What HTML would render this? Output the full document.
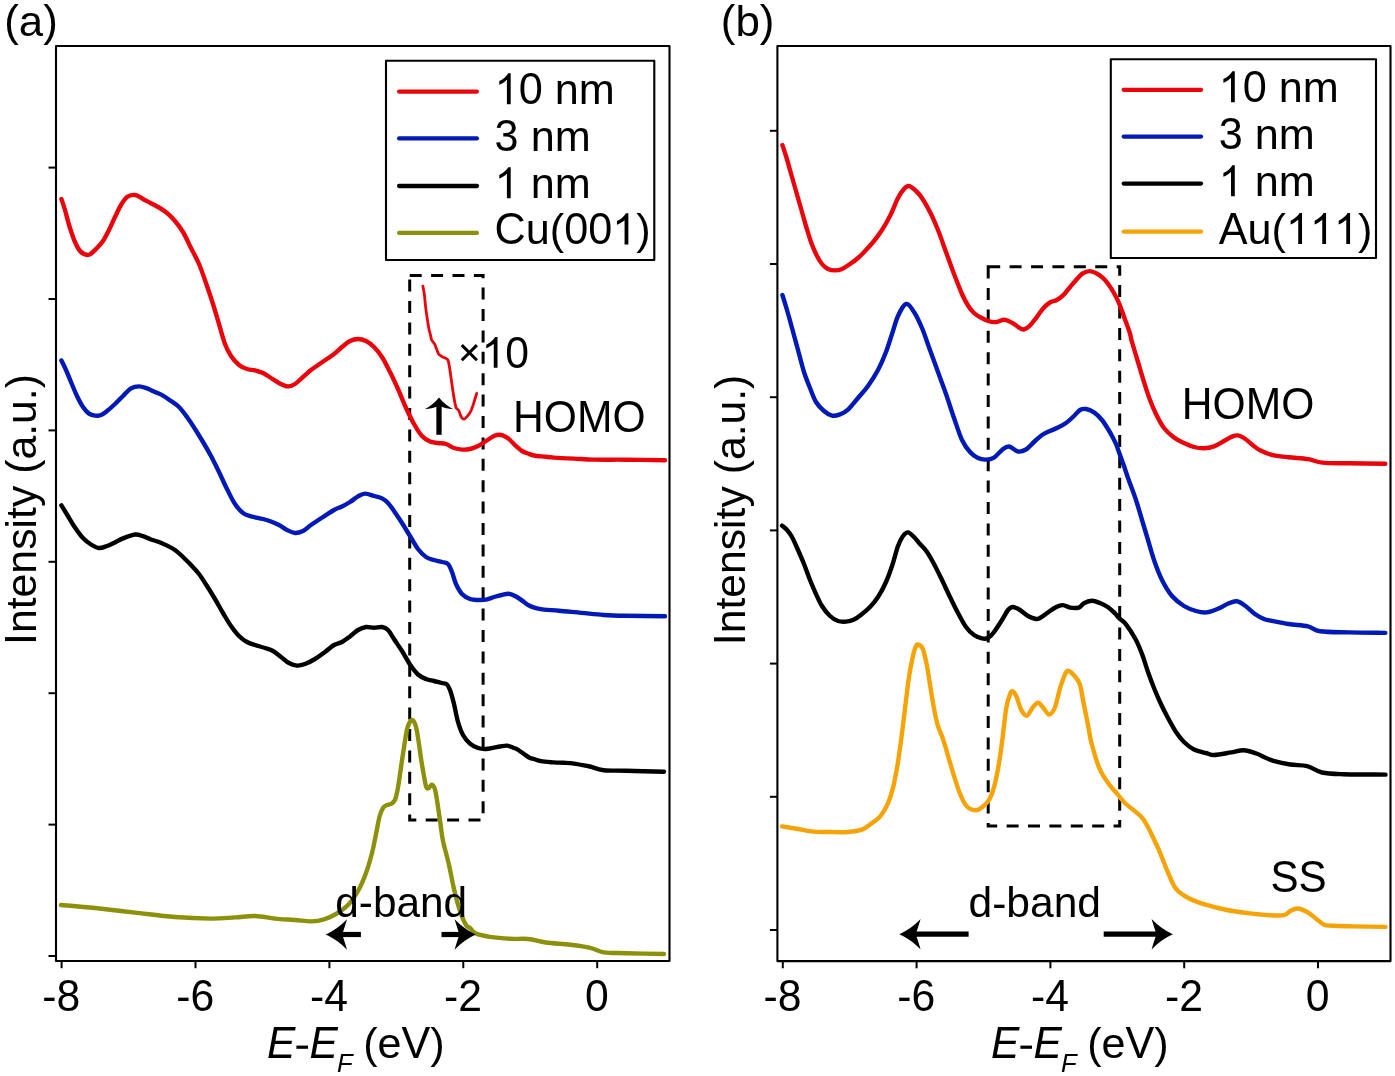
<!DOCTYPE html><html><head><meta charset="utf-8"><style>html,body{margin:0;padding:0;background:#fff;}svg{display:block;will-change:transform;}text{font-family:"Liberation Sans",sans-serif;fill:#000;font-kerning:none;font-feature-settings:"kern" 0;}</style></head><body>
<svg width="1395" height="1076" viewBox="0 0 1395 1076">
<rect width="1395" height="1076" fill="#fff"/>
<rect x="56.0" y="46.0" width="613.5" height="915.0" fill="none" stroke="#000" stroke-width="2.1" stroke-linejoin="round"/>
<line x1="48.5" y1="167.6" x2="56.0" y2="167.6" stroke="#000" stroke-width="2"/>
<line x1="48.5" y1="299.0" x2="56.0" y2="299.0" stroke="#000" stroke-width="2"/>
<line x1="48.5" y1="430.4" x2="56.0" y2="430.4" stroke="#000" stroke-width="2"/>
<line x1="48.5" y1="561.8" x2="56.0" y2="561.8" stroke="#000" stroke-width="2"/>
<line x1="48.5" y1="693.2" x2="56.0" y2="693.2" stroke="#000" stroke-width="2"/>
<line x1="48.5" y1="824.6" x2="56.0" y2="824.6" stroke="#000" stroke-width="2"/>
<line x1="48.5" y1="956.0" x2="56.0" y2="956.0" stroke="#000" stroke-width="2"/>
<line x1="61.6" y1="961.0" x2="61.6" y2="968.2" stroke="#000" stroke-width="2"/>
<line x1="195.5" y1="961.0" x2="195.5" y2="968.2" stroke="#000" stroke-width="2"/>
<line x1="329.4" y1="961.0" x2="329.4" y2="968.2" stroke="#000" stroke-width="2"/>
<line x1="463.3" y1="961.0" x2="463.3" y2="968.2" stroke="#000" stroke-width="2"/>
<line x1="597.2" y1="961.0" x2="597.2" y2="968.2" stroke="#000" stroke-width="2"/>
<rect x="777.4" y="46.0" width="613.1" height="915.1" fill="none" stroke="#000" stroke-width="2.1" stroke-linejoin="round"/>
<line x1="769.9" y1="130.8" x2="777.4" y2="130.8" stroke="#000" stroke-width="2"/>
<line x1="769.9" y1="264.0" x2="777.4" y2="264.0" stroke="#000" stroke-width="2"/>
<line x1="769.9" y1="397.2" x2="777.4" y2="397.2" stroke="#000" stroke-width="2"/>
<line x1="769.9" y1="530.4" x2="777.4" y2="530.4" stroke="#000" stroke-width="2"/>
<line x1="769.9" y1="663.6" x2="777.4" y2="663.6" stroke="#000" stroke-width="2"/>
<line x1="769.9" y1="796.8" x2="777.4" y2="796.8" stroke="#000" stroke-width="2"/>
<line x1="769.9" y1="930.0" x2="777.4" y2="930.0" stroke="#000" stroke-width="2"/>
<line x1="782.8" y1="961.1" x2="782.8" y2="968.3" stroke="#000" stroke-width="2"/>
<line x1="916.6" y1="961.1" x2="916.6" y2="968.3" stroke="#000" stroke-width="2"/>
<line x1="1050.4" y1="961.1" x2="1050.4" y2="968.3" stroke="#000" stroke-width="2"/>
<line x1="1184.2" y1="961.1" x2="1184.2" y2="968.3" stroke="#000" stroke-width="2"/>
<line x1="1318.0" y1="961.1" x2="1318.0" y2="968.3" stroke="#000" stroke-width="2"/>
<rect x="409.7" y="275.4" width="73.4" height="544.6" fill="none" stroke="#000" stroke-width="3" stroke-dasharray="12 9.4"/>
<rect x="988.2" y="266.8" width="131.5" height="559.2" fill="none" stroke="#000" stroke-width="3" stroke-dasharray="12 9.4"/>
<path d="M61.0,905.0 C66.7,905.5 82.7,906.7 95.0,908.0 C107.3,909.3 121.7,911.1 135.0,912.6 C148.3,914.1 162.3,916.0 175.0,917.0 C187.7,918.0 201.0,918.5 211.0,918.6 C221.0,918.7 227.7,917.8 235.0,917.4 C242.3,917.0 248.3,915.8 255.0,916.0 C261.7,916.2 268.3,917.9 275.0,918.6 C281.7,919.3 288.8,919.5 295.0,920.0 C301.2,920.5 307.2,921.5 312.0,921.4 C316.8,921.3 320.0,920.6 324.0,919.4 C328.0,918.2 332.0,916.4 336.0,914.0 C340.0,911.6 344.3,908.8 348.0,905.0 C351.7,901.2 355.0,896.3 358.0,891.0 C361.0,885.7 363.7,879.3 366.0,873.0 C368.3,866.7 370.2,860.0 372.0,853.0 C373.8,846.0 375.3,837.2 376.6,831.0 C377.9,824.8 378.6,819.9 379.7,816.0 C380.8,812.1 382.1,809.3 383.3,807.5 C384.5,805.7 385.6,805.7 386.9,805.1 C388.2,804.5 389.8,804.7 391.1,803.9 C392.4,803.1 393.8,802.3 394.8,800.3 C395.8,798.3 396.4,795.6 397.2,791.8 C398.0,788.0 398.8,782.5 399.6,777.3 C400.4,772.1 401.2,765.8 402.0,760.4 C402.8,755.0 403.6,749.7 404.4,744.7 C405.2,739.7 406.0,733.8 406.8,730.2 C407.6,726.6 408.5,724.7 409.3,723.0 C410.1,721.3 410.9,720.2 411.7,720.0 C412.5,719.8 413.3,720.2 414.1,721.7 C414.9,723.2 415.7,725.4 416.5,729.0 C417.3,732.6 418.1,738.3 418.9,743.5 C419.7,748.7 420.5,755.2 421.3,760.4 C422.1,765.6 423.0,770.5 423.8,774.9 C424.6,779.3 425.4,784.8 426.2,787.0 C427.0,789.2 427.7,788.6 428.6,788.2 C429.5,787.8 430.6,784.6 431.6,784.6 C432.6,784.6 433.8,786.2 434.6,788.2 C435.4,790.2 435.8,793.2 436.4,796.6 C437.0,800.0 437.6,803.9 438.3,808.7 C439.0,813.5 439.9,820.2 440.7,825.6 C441.5,831.0 441.6,834.4 443.0,841.0 C444.4,847.6 447.2,857.0 449.0,865.0 C450.8,873.0 452.2,881.3 454.0,889.0 C455.8,896.7 458.0,905.0 460.0,911.0 C462.0,917.0 464.3,922.2 466.0,925.0 C467.7,927.8 468.3,926.6 470.0,928.0 C471.7,929.4 472.7,932.0 476.0,933.5 C479.3,935.0 484.3,935.9 490.0,936.8 C495.7,937.7 503.7,938.4 510.0,938.8 C516.3,939.2 522.0,938.4 528.0,939.0 C534.0,939.6 538.8,941.5 545.8,942.5 C552.8,943.5 562.9,943.8 570.3,944.7 C577.7,945.6 584.8,946.5 590.4,947.8 C596.0,949.1 597.8,951.4 603.7,952.3 C609.6,953.2 616.0,952.9 626.0,953.2 C636.0,953.5 657.7,953.9 664.0,954.0" fill="none" stroke="#8d900b" stroke-width="4.4" stroke-linejoin="round" stroke-linecap="round"/>
<path d="M61.4,505.3 C62.3,506.8 64.7,510.8 67.0,514.5 C69.3,518.2 72.3,523.6 75.0,527.5 C77.7,531.4 80.3,535.2 83.0,538.0 C85.7,540.8 88.3,542.8 91.0,544.5 C93.7,546.2 96.3,547.8 99.0,548.0 C101.7,548.2 104.3,546.9 107.0,546.0 C109.7,545.1 112.3,543.7 115.0,542.4 C117.7,541.1 119.7,539.7 123.0,538.4 C126.3,537.1 131.7,534.9 135.0,534.5 C138.3,534.1 140.3,535.4 143.0,536.2 C145.7,537.0 148.3,538.5 151.0,539.5 C153.7,540.5 156.3,541.0 159.0,542.0 C161.7,543.0 164.3,544.3 167.0,545.6 C169.7,546.9 172.3,548.1 175.0,550.0 C177.7,551.9 180.3,554.5 183.0,557.0 C185.7,559.5 188.3,562.2 191.0,565.0 C193.7,567.8 196.3,570.5 199.0,574.0 C201.7,577.5 204.3,581.8 207.0,586.0 C209.7,590.2 212.3,594.5 215.0,599.0 C217.7,603.5 220.3,608.5 223.0,613.0 C225.7,617.5 228.3,622.2 231.0,626.0 C233.7,629.8 236.3,633.3 239.0,636.0 C241.7,638.7 244.3,640.5 247.0,642.0 C249.7,643.5 252.0,644.0 255.0,645.0 C258.0,646.0 262.0,647.0 265.0,648.0 C268.0,649.0 270.3,649.5 273.0,651.0 C275.7,652.5 278.3,655.0 281.0,657.0 C283.7,659.0 286.3,661.6 289.0,663.0 C291.7,664.4 294.3,665.4 297.0,665.6 C299.7,665.8 302.0,665.1 305.0,664.0 C308.0,662.9 311.7,661.0 315.0,659.0 C318.3,657.0 321.8,654.3 325.0,652.0 C328.2,649.7 331.2,646.7 334.0,645.0 C336.8,643.3 339.3,643.4 342.0,642.0 C344.7,640.6 347.3,638.5 350.0,636.5 C352.7,634.5 355.3,631.6 358.0,630.0 C360.7,628.4 363.3,627.4 366.0,627.0 C368.7,626.6 371.3,627.8 374.0,627.8 C376.7,627.8 379.7,626.6 382.0,627.0 C384.3,627.4 386.0,628.0 388.0,630.0 C390.0,632.0 391.7,635.5 394.0,639.0 C396.3,642.5 399.3,646.8 402.0,651.0 C404.7,655.2 407.3,660.6 410.0,664.5 C412.7,668.4 415.3,672.1 418.0,674.5 C420.7,676.9 423.3,677.9 426.0,679.0 C428.7,680.1 431.3,680.3 434.0,681.0 C436.7,681.7 439.8,682.4 442.0,683.0 C444.2,683.6 445.7,683.3 447.0,684.5 C448.3,685.7 448.8,686.8 450.0,690.0 C451.2,693.2 452.7,698.7 454.0,704.0 C455.3,709.3 456.5,716.8 458.0,722.0 C459.5,727.2 461.0,731.4 463.0,735.0 C465.0,738.6 467.5,741.5 470.0,743.7 C472.5,745.9 475.3,747.1 478.0,748.0 C480.7,748.9 483.3,749.1 486.0,749.0 C488.7,748.9 491.7,748.0 494.0,747.6 C496.3,747.2 497.8,746.8 500.0,746.5 C502.2,746.2 504.7,745.4 507.0,745.6 C509.3,745.9 512.3,747.4 514.0,748.0 C515.7,748.6 515.3,748.2 517.0,749.2 C518.7,750.2 521.8,752.5 524.0,754.0 C526.2,755.5 528.3,757.1 530.0,757.9 C531.7,758.7 532.2,758.5 534.0,759.0 C535.8,759.5 537.7,760.6 541.0,761.2 C544.3,761.8 550.2,762.1 554.0,762.4 C557.8,762.7 560.3,762.6 563.6,762.8 C566.9,763.0 570.3,763.1 574.0,763.6 C577.7,764.1 583.2,765.2 585.9,765.7 C588.6,766.2 587.0,765.8 590.0,766.5 C593.0,767.2 597.7,769.5 603.7,770.2 C609.7,770.9 616.0,770.5 626.0,770.8 C636.0,771.0 657.7,771.6 664.0,771.7" fill="none" stroke="#000" stroke-width="4.4" stroke-linejoin="round" stroke-linecap="round"/>
<path d="M61.4,360.5 C62.2,362.1 64.4,366.4 66.0,370.0 C67.6,373.6 69.2,377.7 71.0,382.0 C72.8,386.3 75.0,391.8 77.0,396.0 C79.0,400.2 81.0,404.1 83.0,407.0 C85.0,409.9 87.0,412.2 89.0,413.6 C91.0,415.0 93.0,415.4 95.0,415.6 C97.0,415.8 99.0,415.8 101.0,415.0 C103.0,414.2 104.7,412.8 107.0,411.0 C109.3,409.2 112.3,406.5 115.0,404.0 C117.7,401.5 120.3,398.6 123.0,396.0 C125.7,393.4 128.3,390.0 131.0,388.4 C133.7,386.8 136.3,386.4 139.0,386.4 C141.7,386.4 144.3,387.5 147.0,388.4 C149.7,389.3 152.3,390.8 155.0,392.0 C157.7,393.2 160.3,394.1 163.0,395.6 C165.7,397.1 168.3,399.1 171.0,401.0 C173.7,402.9 176.3,404.3 179.0,407.0 C181.7,409.7 184.3,413.3 187.0,417.0 C189.7,420.7 192.3,424.8 195.0,429.0 C197.7,433.2 200.3,437.5 203.0,442.0 C205.7,446.5 208.3,451.0 211.0,456.0 C213.7,461.0 216.3,466.5 219.0,472.0 C221.7,477.5 224.3,483.7 227.0,489.0 C229.7,494.3 232.3,500.0 235.0,504.0 C237.7,508.0 240.3,510.9 243.0,513.0 C245.7,515.1 247.7,515.4 251.0,516.4 C254.3,517.4 259.7,518.1 263.0,519.0 C266.3,519.9 268.3,520.5 271.0,521.5 C273.7,522.5 276.3,523.6 279.0,525.0 C281.7,526.4 284.3,528.7 287.0,530.0 C289.7,531.3 292.3,532.8 295.0,533.0 C297.7,533.2 300.3,532.3 303.0,531.0 C305.7,529.7 307.7,527.3 311.0,525.0 C314.3,522.7 319.2,519.5 323.0,517.0 C326.8,514.5 330.8,511.8 334.0,510.0 C337.2,508.2 339.3,507.8 342.0,506.5 C344.7,505.2 347.3,503.7 350.0,502.0 C352.7,500.3 355.5,497.8 358.0,496.4 C360.5,495.0 362.3,493.7 365.0,493.6 C367.7,493.5 371.2,495.2 374.0,496.0 C376.8,496.8 379.7,497.2 382.0,498.4 C384.3,499.6 386.0,500.9 388.0,503.0 C390.0,505.1 391.7,507.7 394.0,511.0 C396.3,514.3 399.3,518.8 402.0,523.0 C404.7,527.2 407.3,531.7 410.0,536.0 C412.7,540.3 415.3,545.5 418.0,549.0 C420.7,552.5 423.3,555.2 426.0,557.0 C428.7,558.8 431.3,559.2 434.0,560.0 C436.7,560.8 439.7,561.3 442.0,562.0 C444.3,562.7 446.3,562.3 448.0,564.0 C449.7,565.7 450.7,568.7 452.0,572.0 C453.3,575.3 454.3,580.3 456.0,584.0 C457.7,587.7 459.7,591.5 462.0,594.0 C464.3,596.5 467.3,598.0 470.0,599.0 C472.7,600.0 475.3,599.9 478.0,600.0 C480.7,600.1 483.3,600.1 486.0,599.6 C488.7,599.1 491.3,597.8 494.0,597.0 C496.7,596.2 499.5,595.5 502.0,595.0 C504.5,594.5 506.7,593.5 509.0,593.8 C511.3,594.0 513.5,595.1 516.0,596.5 C518.5,597.9 522.0,600.6 524.0,602.0 C526.0,603.4 526.0,604.0 528.0,605.0 C530.0,606.0 533.3,607.4 536.0,608.2 C538.7,609.0 540.2,609.2 544.0,609.6 C547.8,610.0 552.8,610.2 559.0,610.7 C565.2,611.2 574.0,612.2 581.5,612.9 C589.0,613.6 596.3,614.5 603.7,615.0 C611.1,615.5 615.8,615.6 626.0,615.8 C636.2,616.0 658.5,616.1 665.0,616.2" fill="none" stroke="#0119b5" stroke-width="4.4" stroke-linejoin="round" stroke-linecap="round"/>
<path d="M61.4,199.0 C62.0,200.8 63.6,205.2 65.0,210.0 C66.4,214.8 68.3,222.7 70.0,228.0 C71.7,233.3 73.3,238.2 75.0,242.0 C76.7,245.8 78.3,248.9 80.0,251.0 C81.7,253.1 83.3,253.8 85.0,254.4 C86.7,255.0 88.0,255.5 90.0,254.4 C92.0,253.3 94.8,250.2 97.0,248.0 C99.2,245.8 101.0,244.0 103.0,241.0 C105.0,238.0 107.0,234.0 109.0,230.0 C111.0,226.0 113.0,221.2 115.0,217.0 C117.0,212.8 119.0,208.3 121.0,205.0 C123.0,201.7 124.7,198.7 127.0,197.0 C129.3,195.3 132.3,194.7 135.0,195.0 C137.7,195.3 140.3,197.6 143.0,199.0 C145.7,200.4 148.3,201.9 151.0,203.3 C153.7,204.7 156.3,205.9 159.0,207.5 C161.7,209.1 164.3,210.8 167.0,213.0 C169.7,215.2 172.3,217.8 175.0,221.0 C177.7,224.2 180.3,227.5 183.0,232.0 C185.7,236.5 188.3,242.7 191.0,248.0 C193.7,253.3 196.3,257.7 199.0,264.0 C201.7,270.3 204.7,279.3 207.0,286.0 C209.3,292.7 211.0,297.7 213.0,304.0 C215.0,310.3 217.0,317.3 219.0,324.0 C221.0,330.7 223.0,338.7 225.0,344.0 C227.0,349.3 228.7,352.5 231.0,356.0 C233.3,359.5 236.3,362.8 239.0,365.0 C241.7,367.2 244.3,368.1 247.0,369.0 C249.7,369.9 252.3,369.7 255.0,370.4 C257.7,371.1 260.3,371.7 263.0,373.0 C265.7,374.3 268.3,376.3 271.0,378.0 C273.7,379.7 276.2,381.6 279.0,383.0 C281.8,384.4 285.3,386.2 288.0,386.4 C290.7,386.6 292.5,385.6 295.0,384.0 C297.5,382.4 300.3,379.3 303.0,377.0 C305.7,374.7 308.0,372.3 311.0,370.0 C314.0,367.7 317.2,365.7 321.0,363.0 C324.8,360.3 330.5,356.7 334.0,354.0 C337.5,351.3 339.3,349.2 342.0,347.0 C344.7,344.8 347.3,342.3 350.0,341.0 C352.7,339.7 355.3,339.0 358.0,339.0 C360.7,339.0 363.3,339.7 366.0,341.0 C368.7,342.3 371.3,344.3 374.0,347.0 C376.7,349.7 379.3,352.8 382.0,357.0 C384.7,361.2 387.3,366.7 390.0,372.0 C392.7,377.3 395.3,383.0 398.0,389.0 C400.7,395.0 403.3,402.2 406.0,408.0 C408.7,413.8 411.3,419.3 414.0,424.0 C416.7,428.7 419.3,433.1 422.0,436.0 C424.7,438.9 427.3,440.4 430.0,441.6 C432.7,442.8 435.3,442.6 438.0,443.0 C440.7,443.4 443.3,443.2 446.0,444.0 C448.7,444.8 451.3,447.1 454.0,448.0 C456.7,448.9 459.3,449.4 462.0,449.6 C464.7,449.8 467.3,449.6 470.0,449.0 C472.7,448.4 475.3,447.3 478.0,446.0 C480.7,444.7 483.3,442.7 486.0,441.0 C488.7,439.3 491.7,437.0 494.0,436.0 C496.3,435.0 498.0,434.6 500.0,434.8 C502.0,435.0 504.3,436.1 506.0,437.0 C507.7,437.9 508.2,438.3 510.0,440.0 C511.8,441.7 515.0,445.2 517.0,447.0 C519.0,448.8 520.2,449.9 522.0,451.0 C523.8,452.1 526.0,452.8 528.0,453.5 C530.0,454.2 531.0,454.9 534.0,455.5 C537.0,456.1 542.5,456.4 545.8,456.8 C549.1,457.2 549.3,457.3 554.0,457.6 C558.7,457.9 567.3,458.3 574.0,458.6 C580.7,458.9 585.3,459.4 594.0,459.6 C602.7,459.8 614.2,459.6 626.0,459.7 C637.8,459.8 658.5,460.1 665.0,460.2" fill="none" stroke="#e8060c" stroke-width="4.4" stroke-linejoin="round" stroke-linecap="round"/>
<path d="M422.9,286.2 C423.1,287.6 424.0,291.4 424.4,294.7 C424.8,298.0 425.1,302.2 425.5,305.9 C425.9,309.6 426.4,313.3 427.0,317.0 C427.6,320.7 428.2,325.2 428.8,328.2 C429.4,331.2 430.0,333.0 430.5,335.0 C431.0,337.0 431.0,338.6 431.6,340.0 C432.2,341.4 433.5,342.1 434.4,343.7 C435.2,345.2 436.0,347.6 436.7,349.3 C437.4,351.0 437.9,352.8 438.6,353.9 C439.3,355.0 440.1,355.2 440.9,355.8 C441.7,356.4 442.4,356.8 443.2,357.2 C444.0,357.6 444.7,357.6 445.5,358.1 C446.3,358.6 447.3,358.7 447.9,360.0 C448.5,361.3 448.8,363.4 449.3,366.0 C449.8,368.6 450.2,372.2 450.7,375.3 C451.1,378.4 451.6,381.5 452.0,384.6 C452.4,387.7 452.9,390.9 453.4,393.9 C453.9,396.8 454.3,400.0 454.8,402.3 C455.3,404.6 455.6,406.5 456.2,407.8 C456.8,409.1 458.0,409.3 458.6,410.2 C459.2,411.1 459.4,412.2 459.9,413.4 C460.3,414.5 460.6,416.1 461.3,417.1 C462.0,418.1 463.2,419.3 464.1,419.2 C465.0,419.1 465.8,418.0 466.9,416.7 C468.0,415.4 469.5,413.7 470.6,411.6 C471.7,409.5 472.4,407.1 473.4,404.1 C474.4,401.1 476.1,395.2 476.7,393.4" fill="none" stroke="#e8060c" stroke-width="2.8" stroke-linejoin="round" stroke-linecap="round"/>
<path d="M782.0,826.4 C784.7,826.8 792.7,828.1 798.0,829.0 C803.3,829.9 808.7,831.1 814.0,831.6 C819.3,832.1 824.3,831.9 830.0,832.0 C835.7,832.1 842.7,832.4 848.0,832.0 C853.3,831.6 858.0,831.1 862.0,829.6 C866.0,828.1 869.0,825.1 872.0,823.0 C875.0,820.9 877.4,819.8 880.0,816.7 C882.6,813.7 885.2,809.5 887.4,804.7 C889.6,799.9 891.3,794.7 893.0,787.9 C894.7,781.1 896.3,772.1 897.7,763.8 C899.1,755.4 900.2,747.1 901.4,737.8 C902.6,728.5 903.9,717.9 905.1,708.0 C906.3,698.1 907.6,686.6 908.8,678.3 C910.0,669.9 911.3,663.3 912.5,657.9 C913.7,652.5 915.1,648.0 916.2,645.8 C917.3,643.6 917.9,644.4 919.0,644.9 C920.1,645.4 921.5,645.5 922.7,648.6 C924.0,651.7 925.2,657.2 926.5,663.4 C927.8,669.6 929.0,678.3 930.2,685.7 C931.4,693.1 932.7,701.5 933.9,708.0 C935.1,714.5 936.0,719.5 937.6,724.8 C939.2,730.1 941.4,734.0 943.2,739.6 C945.1,745.2 946.9,752.0 948.7,758.2 C950.6,764.4 952.4,770.9 954.3,776.8 C956.2,782.7 958.0,788.9 959.9,793.5 C961.8,798.1 963.6,802.1 965.5,804.7 C967.4,807.3 969.0,808.4 971.0,809.3 C973.0,810.2 975.3,810.5 977.5,809.9 C979.7,809.3 982.0,807.4 984.0,805.6 C986.0,803.8 987.9,802.4 989.6,799.1 C991.3,795.9 992.8,792.0 994.3,786.1 C995.8,780.2 997.5,771.8 998.9,763.8 C1000.3,755.8 1001.4,747.1 1002.6,737.8 C1003.8,728.5 1005.0,715.3 1006.3,708.0 C1007.5,700.7 1009.0,696.9 1010.1,694.1 C1011.2,691.3 1011.7,690.8 1012.8,691.3 C1013.9,691.8 1015.2,693.8 1016.6,696.9 C1018.0,700.0 1019.5,706.8 1021.2,709.9 C1022.9,713.0 1024.9,716.1 1026.8,715.8 C1028.7,715.5 1030.6,710.2 1032.4,708.0 C1034.2,705.8 1036.1,702.8 1037.9,702.8 C1039.8,702.8 1041.6,706.0 1043.5,708.0 C1045.4,710.0 1047.2,714.5 1049.1,714.5 C1051.0,714.5 1052.8,712.5 1054.7,708.0 C1056.6,703.5 1058.4,693.5 1060.2,687.6 C1062.0,681.7 1064.4,675.5 1065.8,672.7 C1067.2,669.9 1067.2,670.4 1068.6,670.9 C1070.0,671.4 1072.3,673.3 1074.2,675.5 C1076.1,677.7 1078.2,679.8 1079.7,683.9 C1081.2,688.0 1082.0,695.1 1083.0,700.0 C1084.0,704.9 1084.7,708.7 1085.6,713.0 C1086.5,717.3 1087.3,721.5 1088.2,726.0 C1089.1,730.5 1089.7,735.5 1090.8,740.3 C1091.9,745.1 1093.4,750.3 1094.7,754.6 C1096.0,758.9 1097.1,762.6 1098.6,766.3 C1100.1,770.0 1101.8,773.5 1103.8,776.7 C1105.8,780.0 1107.9,782.8 1110.3,785.8 C1112.7,788.8 1115.7,792.1 1118.1,794.9 C1120.5,797.7 1122.2,800.3 1124.6,802.7 C1127.0,805.1 1129.6,806.8 1132.4,809.2 C1135.2,811.6 1139.1,814.4 1141.5,817.0 C1143.9,819.6 1144.8,821.3 1146.7,824.8 C1148.7,828.3 1151.1,833.5 1153.2,837.8 C1155.3,842.1 1156.8,845.0 1159.2,850.7 C1161.6,856.4 1164.9,865.5 1167.7,871.9 C1170.5,878.2 1172.6,884.4 1176.1,888.8 C1179.6,893.2 1183.9,895.6 1188.8,898.3 C1193.7,900.9 1199.3,902.8 1205.7,904.7 C1212.1,906.7 1219.9,908.6 1226.9,910.0 C1234.0,911.4 1241.0,912.2 1248.0,913.1 C1255.0,914.0 1263.2,914.9 1269.2,915.2 C1275.2,915.6 1280.5,915.9 1284.0,915.2 C1287.5,914.5 1288.0,912.1 1290.3,911.0 C1292.6,909.9 1294.9,908.3 1297.7,908.5 C1300.5,908.7 1304.2,910.4 1307.2,912.0 C1310.2,913.6 1312.9,916.3 1315.7,918.4 C1318.5,920.5 1321.3,923.5 1324.1,924.7 C1326.9,925.9 1327.6,925.5 1332.6,925.8 C1337.5,926.1 1345.0,926.2 1353.8,926.4 C1362.6,926.6 1380.2,926.8 1385.5,926.9" fill="none" stroke="#f6a308" stroke-width="4.4" stroke-linejoin="round" stroke-linecap="round"/>
<path d="M782.0,525.6 C782.8,526.3 785.3,528.1 787.0,530.0 C788.7,531.9 790.2,533.7 792.0,537.0 C793.8,540.3 796.0,545.5 798.0,550.0 C800.0,554.5 802.0,559.0 804.0,564.0 C806.0,569.0 808.0,575.0 810.0,580.0 C812.0,585.0 814.0,589.7 816.0,594.0 C818.0,598.3 819.7,602.3 822.0,606.0 C824.3,609.7 827.3,613.5 830.0,616.0 C832.7,618.5 835.3,620.1 838.0,621.0 C840.7,621.9 843.3,621.8 846.0,621.6 C848.7,621.4 851.3,620.9 854.0,619.6 C856.7,618.3 859.3,616.1 862.0,614.0 C864.7,611.9 867.3,609.8 870.0,607.0 C872.7,604.2 875.3,601.2 878.0,597.0 C880.7,592.8 883.7,587.2 886.0,582.0 C888.3,576.8 890.0,572.0 892.0,566.0 C894.0,560.0 896.2,551.0 898.0,546.0 C899.8,541.0 901.3,538.3 903.0,536.0 C904.7,533.7 906.2,532.2 908.0,532.4 C909.8,532.6 912.0,535.1 914.0,537.0 C916.0,538.9 917.8,541.5 920.0,544.0 C922.2,546.5 924.7,548.7 927.0,552.0 C929.3,555.3 931.5,559.3 934.0,564.0 C936.5,568.7 939.3,574.5 942.0,580.0 C944.7,585.5 947.3,591.5 950.0,597.0 C952.7,602.5 955.3,608.0 958.0,613.0 C960.7,618.0 963.3,623.3 966.0,627.0 C968.7,630.7 971.3,633.1 974.0,635.0 C976.7,636.9 979.7,637.9 982.0,638.4 C984.3,638.9 986.0,639.1 988.0,638.0 C990.0,636.9 991.7,635.0 994.0,632.0 C996.3,629.0 999.7,623.7 1002.0,620.0 C1004.3,616.3 1006.2,612.2 1008.0,610.0 C1009.8,607.8 1011.0,607.0 1013.0,607.0 C1015.0,607.0 1017.5,608.5 1020.0,610.0 C1022.5,611.5 1025.3,614.5 1028.0,616.0 C1030.7,617.5 1034.0,618.7 1036.0,619.0 C1038.0,619.3 1038.1,619.0 1040.0,618.0 C1041.9,617.0 1044.6,614.8 1047.2,613.0 C1049.8,611.2 1053.2,608.5 1055.8,607.2 C1058.4,605.9 1060.5,605.0 1062.9,605.1 C1065.3,605.2 1067.5,607.2 1070.1,607.6 C1072.7,608.0 1076.3,608.4 1078.7,607.6 C1081.1,606.8 1082.1,604.0 1084.4,602.9 C1086.7,601.8 1089.8,600.8 1092.3,600.8 C1094.8,600.8 1096.9,601.8 1099.5,602.9 C1102.1,604.0 1105.5,605.4 1108.1,607.2 C1110.7,609.0 1113.5,611.9 1115.3,613.7 C1117.1,615.5 1117.1,616.2 1118.9,618.0 C1120.7,619.8 1123.3,620.9 1126.0,624.4 C1128.7,627.9 1132.6,633.9 1135.3,638.8 C1138.0,643.7 1139.9,648.5 1142.0,654.0 C1144.1,659.5 1146.0,666.3 1148.0,672.0 C1150.0,677.7 1152.0,683.0 1154.0,688.0 C1156.0,693.0 1157.7,697.0 1160.0,702.0 C1162.3,707.0 1165.3,713.0 1168.0,718.0 C1170.7,723.0 1173.3,728.0 1176.0,732.0 C1178.7,736.0 1181.0,739.1 1184.0,742.0 C1187.0,744.9 1190.3,747.7 1194.0,749.5 C1197.7,751.3 1202.6,752.1 1206.0,753.0 C1209.4,753.9 1210.0,755.1 1214.2,755.0 C1218.4,754.9 1226.2,753.2 1231.1,752.4 C1236.0,751.6 1239.6,750.0 1243.8,750.2 C1248.0,750.4 1253.1,752.4 1256.5,753.5 C1259.9,754.6 1261.2,755.8 1264.0,757.0 C1266.8,758.2 1269.0,759.6 1273.4,760.9 C1277.8,762.1 1284.7,763.6 1290.3,764.5 C1295.9,765.4 1301.9,764.8 1307.2,766.1 C1312.5,767.4 1316.0,771.1 1322.0,772.5 C1328.0,773.9 1332.6,773.9 1343.2,774.2 C1353.8,774.6 1378.5,774.5 1385.5,774.6" fill="none" stroke="#000" stroke-width="4.4" stroke-linejoin="round" stroke-linecap="round"/>
<path d="M782.4,295.0 C783.2,297.5 785.4,304.5 787.0,310.0 C788.6,315.5 790.2,321.3 792.0,328.0 C793.8,334.7 796.0,342.7 798.0,350.0 C800.0,357.3 802.0,365.7 804.0,372.0 C806.0,378.3 808.0,383.0 810.0,388.0 C812.0,393.0 813.7,398.2 816.0,402.0 C818.3,405.8 821.3,408.7 824.0,411.0 C826.7,413.3 829.3,415.0 832.0,415.6 C834.7,416.2 837.3,415.4 840.0,414.4 C842.7,413.4 845.0,412.3 848.0,409.6 C851.0,406.9 854.7,401.9 858.0,398.0 C861.3,394.1 864.7,390.7 868.0,386.0 C871.3,381.3 875.0,375.7 878.0,370.0 C881.0,364.3 883.7,358.0 886.0,352.0 C888.3,346.0 890.0,340.0 892.0,334.0 C894.0,328.0 895.7,321.0 898.0,316.0 C900.3,311.0 903.3,304.7 906.0,304.0 C908.7,303.3 911.3,308.0 914.0,312.0 C916.7,316.0 919.3,321.7 922.0,328.0 C924.7,334.3 927.3,342.7 930.0,350.0 C932.7,357.3 935.3,364.7 938.0,372.0 C940.7,379.3 943.3,386.3 946.0,394.0 C948.7,401.7 951.3,410.3 954.0,418.0 C956.7,425.7 959.3,434.3 962.0,440.0 C964.7,445.7 967.3,449.0 970.0,452.0 C972.7,455.0 975.3,456.7 978.0,458.0 C980.7,459.3 983.3,459.7 986.0,459.6 C988.7,459.5 991.3,459.2 994.0,457.6 C996.7,456.0 999.5,451.9 1002.0,450.0 C1004.5,448.1 1006.3,446.2 1009.0,446.5 C1011.7,446.8 1015.2,451.0 1018.0,451.5 C1020.8,452.0 1023.3,451.1 1026.0,449.5 C1028.7,447.9 1031.3,444.4 1034.0,442.0 C1036.7,439.6 1039.3,436.8 1042.0,435.0 C1044.7,433.2 1047.3,432.2 1050.0,431.0 C1052.7,429.8 1055.3,428.9 1058.0,427.6 C1060.7,426.3 1063.3,424.9 1066.0,423.0 C1068.7,421.1 1071.7,418.2 1074.0,416.0 C1076.3,413.8 1078.0,411.2 1080.0,410.0 C1082.0,408.8 1083.7,408.6 1086.0,409.0 C1088.3,409.4 1091.3,410.6 1094.0,412.4 C1096.7,414.2 1099.7,417.2 1102.0,420.0 C1104.3,422.8 1106.3,426.3 1108.0,429.0 C1109.7,431.7 1110.7,433.5 1112.0,436.0 C1113.3,438.5 1114.7,440.8 1116.0,444.0 C1117.3,447.2 1118.7,451.3 1120.0,455.0 C1121.3,458.7 1122.7,462.2 1124.0,466.0 C1125.3,469.8 1126.0,472.3 1128.0,478.0 C1130.0,483.7 1133.7,493.0 1136.0,500.0 C1138.3,507.0 1140.0,513.3 1142.0,520.0 C1144.0,526.7 1146.0,533.3 1148.0,540.0 C1150.0,546.7 1151.7,553.3 1154.0,560.0 C1156.3,566.7 1159.0,574.0 1162.0,580.0 C1165.0,586.0 1168.3,591.7 1172.0,596.0 C1175.7,600.3 1180.0,603.5 1184.0,606.0 C1188.0,608.5 1192.2,609.9 1196.0,611.0 C1199.8,612.1 1202.8,612.8 1206.6,612.4 C1210.4,612.0 1215.0,610.0 1218.6,608.5 C1222.2,607.0 1225.3,604.7 1228.3,603.5 C1231.3,602.3 1234.0,600.9 1236.8,601.3 C1239.6,601.7 1242.2,603.7 1245.2,605.8 C1248.2,607.9 1251.8,611.8 1254.9,614.0 C1258.0,616.2 1261.6,618.0 1264.0,619.0 C1266.4,620.0 1265.3,619.5 1269.4,620.3 C1273.5,621.1 1282.3,623.0 1288.7,624.0 C1295.1,625.0 1302.8,625.2 1308.0,626.4 C1313.2,627.6 1313.3,630.2 1320.1,631.2 C1326.9,632.2 1338.1,632.1 1349.0,632.4 C1359.9,632.7 1379.2,632.8 1385.3,632.9" fill="none" stroke="#0119b5" stroke-width="4.4" stroke-linejoin="round" stroke-linecap="round"/>
<path d="M782.4,145.0 C783.0,146.8 784.7,151.8 786.0,156.0 C787.3,160.2 788.7,165.3 790.0,170.0 C791.3,174.7 792.7,179.3 794.0,184.0 C795.3,188.7 796.7,193.3 798.0,198.0 C799.3,202.7 800.7,207.3 802.0,212.0 C803.3,216.7 804.5,221.0 806.0,226.0 C807.5,231.0 809.3,237.3 811.0,242.0 C812.7,246.7 814.2,250.3 816.0,254.0 C817.8,257.7 820.0,261.5 822.0,264.0 C824.0,266.5 825.8,267.9 828.0,269.0 C830.2,270.1 832.7,270.4 835.0,270.4 C837.3,270.4 839.5,270.1 842.0,269.0 C844.5,267.9 847.3,265.8 850.0,264.0 C852.7,262.2 855.3,260.3 858.0,258.0 C860.7,255.7 863.3,252.8 866.0,250.0 C868.7,247.2 871.3,244.3 874.0,241.0 C876.7,237.7 879.3,234.2 882.0,230.0 C884.7,225.8 887.3,221.3 890.0,216.0 C892.7,210.7 895.7,202.5 898.0,198.0 C900.3,193.5 902.2,191.0 904.0,189.0 C905.8,187.0 907.0,185.7 909.0,186.0 C911.0,186.3 913.8,189.0 916.0,191.0 C918.2,193.0 919.7,194.5 922.0,198.0 C924.3,201.5 927.3,206.7 930.0,212.0 C932.7,217.3 935.3,223.3 938.0,230.0 C940.7,236.7 943.3,244.7 946.0,252.0 C948.7,259.3 951.3,267.0 954.0,274.0 C956.7,281.0 959.7,288.8 962.0,294.0 C964.3,299.2 966.0,302.3 968.0,305.5 C970.0,308.7 971.9,311.0 974.0,313.0 C976.1,315.0 978.3,316.2 980.7,317.5 C983.1,318.8 985.7,320.2 988.2,321.0 C990.7,321.8 992.8,322.3 995.6,322.1 C998.4,321.9 1001.9,319.6 1004.8,319.8 C1007.7,320.0 1010.5,321.9 1012.8,323.2 C1015.1,324.4 1016.8,326.2 1018.6,327.3 C1020.4,328.4 1021.8,329.8 1023.7,329.5 C1025.6,329.2 1027.8,327.6 1030.0,325.5 C1032.2,323.4 1034.6,319.8 1036.9,316.9 C1039.2,313.9 1041.5,310.3 1043.8,307.8 C1046.1,305.3 1048.6,303.2 1050.7,302.0 C1052.8,300.8 1054.3,301.4 1056.4,300.3 C1058.5,299.2 1061.2,297.1 1063.3,295.1 C1065.4,293.1 1066.9,290.8 1069.0,288.3 C1071.1,285.8 1073.6,282.7 1075.9,280.2 C1078.2,277.7 1080.5,274.9 1082.8,273.4 C1085.1,271.9 1087.4,271.1 1089.7,271.1 C1092.0,271.1 1094.5,272.3 1096.6,273.4 C1098.7,274.4 1100.4,275.7 1102.3,277.4 C1104.2,279.1 1106.1,281.1 1108.0,283.7 C1109.9,286.3 1111.9,289.4 1113.8,292.8 C1115.7,296.2 1117.8,300.3 1119.5,304.3 C1121.2,308.3 1122.4,312.1 1124.1,316.9 C1125.8,321.7 1128.5,328.8 1129.8,333.0 C1131.1,337.2 1130.6,337.2 1132.0,342.0 C1133.4,346.8 1136.0,355.3 1138.0,362.0 C1140.0,368.7 1142.0,375.7 1144.0,382.0 C1146.0,388.3 1148.0,394.7 1150.0,400.0 C1152.0,405.3 1153.7,409.3 1156.0,414.0 C1158.3,418.7 1161.0,424.1 1164.0,428.0 C1167.0,431.9 1170.7,435.0 1174.0,437.5 C1177.3,440.0 1180.7,441.4 1184.0,443.0 C1187.3,444.6 1190.7,446.1 1194.0,447.0 C1197.3,447.9 1200.7,448.4 1204.0,448.3 C1207.3,448.2 1210.7,447.6 1214.0,446.4 C1217.3,445.2 1221.0,442.6 1224.0,441.0 C1227.0,439.4 1229.7,437.5 1232.0,436.6 C1234.3,435.7 1236.0,435.2 1238.0,435.4 C1240.0,435.6 1241.7,436.5 1244.0,438.0 C1246.3,439.5 1249.3,442.4 1252.0,444.5 C1254.7,446.6 1256.7,448.6 1260.0,450.3 C1263.3,452.0 1267.0,453.7 1271.8,454.9 C1276.6,456.1 1282.7,456.6 1288.7,457.3 C1294.7,458.0 1302.4,458.3 1308.0,459.2 C1313.6,460.1 1315.7,461.9 1322.5,462.6 C1329.3,463.3 1338.5,463.1 1349.0,463.3 C1359.5,463.5 1379.2,463.7 1385.3,463.8" fill="none" stroke="#e8060c" stroke-width="4.4" stroke-linejoin="round" stroke-linecap="round"/>
<rect x="386.0" y="60.7" width="268.3" height="199.3" fill="#fff" stroke="#000" stroke-width="2.1" stroke-linejoin="round"/>
<line x1="399.1" y1="91.6" x2="476.9" y2="91.6" stroke="#e8060c" stroke-width="4.3" stroke-linecap="round"/>
<line x1="399.1" y1="138.4" x2="476.9" y2="138.4" stroke="#0119b5" stroke-width="4.3" stroke-linecap="round"/>
<line x1="399.1" y1="186.0" x2="476.9" y2="186.0" stroke="#000" stroke-width="4.3" stroke-linecap="round"/>
<line x1="399.1" y1="232.9" x2="476.9" y2="232.9" stroke="#8d900b" stroke-width="4.3" stroke-linecap="round"/>
<rect x="1110.8" y="59.2" width="265.2" height="198.8" fill="#fff" stroke="#000" stroke-width="2.1" stroke-linejoin="round"/>
<line x1="1123.7" y1="89.8" x2="1201.0" y2="89.8" stroke="#e8060c" stroke-width="4.3" stroke-linecap="round"/>
<line x1="1123.7" y1="136.6" x2="1201.0" y2="136.6" stroke="#0119b5" stroke-width="4.3" stroke-linecap="round"/>
<line x1="1123.7" y1="183.6" x2="1201.0" y2="183.6" stroke="#000" stroke-width="4.3" stroke-linecap="round"/>
<line x1="1123.7" y1="231.7" x2="1201.0" y2="231.7" stroke="#f6a308" stroke-width="4.3" stroke-linecap="round"/>
<path d="M510.69,104.30L506.90,104.30L506.90,80.11Q505.53,81.41 503.29,82.72Q501.05,84.03 499.28,84.68L499.28,81.01Q502.47,79.51 504.85,77.38Q507.24,75.25 508.23,73.25L510.69,73.25Z" fill="#000"/>
<text transform="translate(518.63,104.30) scale(1,1.040)" font-size="43.20">0</text>
<text transform="translate(554.65,104.30) scale(1,0.985)" font-size="43.20">n</text>
<text transform="translate(578.68,104.30) scale(1,0.985)" font-size="43.20">m</text>
<text transform="translate(494.60,151.10) scale(1,1.040)" font-size="43.20">3</text>
<text transform="translate(530.63,151.10) scale(1,0.985)" font-size="43.20">n</text>
<text transform="translate(554.65,151.10) scale(1,0.985)" font-size="43.20">m</text>
<path d="M510.69,198.20L506.90,198.20L506.90,174.01Q505.53,175.31 503.29,176.62Q501.05,177.93 499.28,178.58L499.28,174.91Q502.47,173.41 504.85,171.28Q507.24,169.15 508.23,167.15L510.69,167.15Z" fill="#000"/>
<text transform="translate(530.63,198.20) scale(1,0.985)" font-size="43.20">n</text>
<text transform="translate(554.65,198.20) scale(1,0.985)" font-size="43.20">m</text>
<text transform="translate(494.60,244.40) scale(1,1.040)" font-size="43.20">C</text>
<text transform="translate(525.80,244.40) scale(1,0.985)" font-size="43.20">u</text>
<text x="549.82" y="244.40" font-size="43.20">(</text>
<text transform="translate(564.21,244.40) scale(1,1.040)" font-size="43.20">0</text>
<text transform="translate(588.24,244.40) scale(1,1.040)" font-size="43.20">0</text>
<path d="M628.36,244.40L624.56,244.40L624.56,220.21Q623.19,221.51 620.95,222.82Q618.72,224.13 616.94,224.78L616.94,221.11Q620.13,219.61 622.51,217.48Q624.90,215.35 625.89,213.35L628.36,213.35Z" fill="#000"/>
<text x="636.29" y="244.40" font-size="43.20">)</text>
<path d="M1234.79,102.30L1231.00,102.30L1231.00,78.11Q1229.63,79.41 1227.39,80.72Q1225.15,82.03 1223.38,82.68L1223.38,79.01Q1226.57,77.51 1228.95,75.38Q1231.34,73.25 1232.33,71.25L1234.79,71.25Z" fill="#000"/>
<text transform="translate(1242.73,102.30) scale(1,1.040)" font-size="43.20">0</text>
<text transform="translate(1278.75,102.30) scale(1,0.985)" font-size="43.20">n</text>
<text transform="translate(1302.78,102.30) scale(1,0.985)" font-size="43.20">m</text>
<text transform="translate(1218.70,149.30) scale(1,1.040)" font-size="43.20">3</text>
<text transform="translate(1254.73,149.30) scale(1,0.985)" font-size="43.20">n</text>
<text transform="translate(1278.75,149.30) scale(1,0.985)" font-size="43.20">m</text>
<path d="M1234.79,196.30L1231.00,196.30L1231.00,172.11Q1229.63,173.41 1227.39,174.72Q1225.15,176.03 1223.38,176.68L1223.38,173.01Q1226.57,171.51 1228.95,169.38Q1231.34,167.25 1232.33,165.25L1234.79,165.25Z" fill="#000"/>
<text transform="translate(1254.73,196.30) scale(1,0.985)" font-size="43.20">n</text>
<text transform="translate(1278.75,196.30) scale(1,0.985)" font-size="43.20">m</text>
<text transform="translate(1218.70,244.00) scale(1,1.040)" font-size="43.20">A</text>
<text transform="translate(1247.51,244.00) scale(1,0.985)" font-size="43.20">u</text>
<text x="1271.54" y="244.00" font-size="43.20">(</text>
<path d="M1302.02,244.00L1298.22,244.00L1298.22,219.81Q1296.85,221.11 1294.62,222.42Q1292.38,223.73 1290.61,224.38L1290.61,220.71Q1293.79,219.21 1296.18,217.08Q1298.56,214.95 1299.55,212.95L1302.02,212.95Z" fill="#000"/>
<path d="M1326.05,244.00L1322.25,244.00L1322.25,219.81Q1320.88,221.11 1318.64,222.42Q1316.41,223.73 1314.63,224.38L1314.63,220.71Q1317.82,219.21 1320.20,217.08Q1322.59,214.95 1323.58,212.95L1326.05,212.95Z" fill="#000"/>
<path d="M1350.07,244.00L1346.27,244.00L1346.27,219.81Q1344.90,221.11 1342.67,222.42Q1340.43,223.73 1338.66,224.38L1338.66,220.71Q1341.85,219.21 1344.23,217.08Q1346.61,214.95 1347.60,212.95L1350.07,212.95Z" fill="#000"/>
<text x="1358.00" y="244.00" font-size="43.20">)</text>
<text x="4.18" y="35.80" font-size="43.80">(</text>
<text transform="translate(18.77,35.80) scale(1,0.985)" font-size="43.80">a</text>
<text x="43.13" y="35.80" font-size="43.80">)</text>
<text x="720.78" y="35.90" font-size="43.89">(</text>
<text transform="translate(735.39,35.90) scale(1,0.985)" font-size="43.89">b</text>
<text x="759.81" y="35.90" font-size="43.89">)</text>
<g transform="translate(35.50,644.95) rotate(-90)"><text transform="translate(0.00,0.00) scale(1,1.040)" font-size="42.76">I</text>
<text transform="translate(11.88,0.00) scale(1,0.985)" font-size="42.76">n</text>
<text transform="translate(35.66,0.00) scale(1,0.985)" font-size="42.76">t</text>
<text transform="translate(47.54,0.00) scale(1,0.985)" font-size="42.76">e</text>
<text transform="translate(71.32,0.00) scale(1,0.985)" font-size="42.76">n</text>
<text transform="translate(95.09,0.00) scale(1,0.985)" font-size="42.76">s</text>
<text transform="translate(116.47,0.00) scale(1,0.985)" font-size="42.76">i</text>
<text transform="translate(125.97,0.00) scale(1,0.985)" font-size="42.76">t</text>
<text transform="translate(137.85,0.00) scale(1,0.985)" font-size="42.76">y</text>
<text x="171.11" y="0.00" font-size="42.76">(</text>
<text transform="translate(185.34,0.00) scale(1,0.985)" font-size="42.76">a</text>
<text x="209.12" y="0.00" font-size="42.76">.</text>
<text transform="translate(221.00,0.00) scale(1,0.985)" font-size="42.76">u</text>
<text x="244.78" y="0.00" font-size="42.76">.</text>
<text x="256.66" y="0.00" font-size="42.76">)</text></g>
<g transform="translate(744.80,645.24) rotate(-90)"><text transform="translate(0.00,0.00) scale(1,1.040)" font-size="42.71">I</text>
<text transform="translate(11.87,0.00) scale(1,0.985)" font-size="42.71">n</text>
<text transform="translate(35.62,0.00) scale(1,0.985)" font-size="42.71">t</text>
<text transform="translate(47.48,0.00) scale(1,0.985)" font-size="42.71">e</text>
<text transform="translate(71.23,0.00) scale(1,0.985)" font-size="42.71">n</text>
<text transform="translate(94.99,0.00) scale(1,0.985)" font-size="42.71">s</text>
<text transform="translate(116.34,0.00) scale(1,0.985)" font-size="42.71">i</text>
<text transform="translate(125.83,0.00) scale(1,0.985)" font-size="42.71">t</text>
<text transform="translate(137.69,0.00) scale(1,0.985)" font-size="42.71">y</text>
<text x="170.91" y="0.00" font-size="42.71">(</text>
<text transform="translate(185.13,0.00) scale(1,0.985)" font-size="42.71">a</text>
<text x="208.89" y="0.00" font-size="42.71">.</text>
<text transform="translate(220.75,0.00) scale(1,0.985)" font-size="42.71">u</text>
<text x="244.50" y="0.00" font-size="42.71">.</text>
<text x="256.37" y="0.00" font-size="42.71">)</text></g>
<text x="42.32" y="1011.30" font-size="42.70">-</text>
<text transform="translate(56.54,1010.60) scale(1,1.040)" font-size="42.70">8</text>
<text x="176.22" y="1011.30" font-size="42.70">-</text>
<text transform="translate(190.44,1010.60) scale(1,1.040)" font-size="42.70">6</text>
<text x="310.12" y="1011.30" font-size="42.70">-</text>
<text transform="translate(324.34,1010.60) scale(1,1.040)" font-size="42.70">4</text>
<text x="444.02" y="1011.30" font-size="42.70">-</text>
<text transform="translate(458.24,1010.60) scale(1,1.040)" font-size="42.70">2</text>
<text transform="translate(585.03,1010.60) scale(1,1.040)" font-size="42.70">0</text>
<text x="763.52" y="1011.30" font-size="42.70">-</text>
<text transform="translate(777.74,1010.60) scale(1,1.040)" font-size="42.70">8</text>
<text x="897.32" y="1011.30" font-size="42.70">-</text>
<text transform="translate(911.54,1010.60) scale(1,1.040)" font-size="42.70">6</text>
<text x="1031.12" y="1011.30" font-size="42.70">-</text>
<text transform="translate(1045.34,1010.60) scale(1,1.040)" font-size="42.70">4</text>
<text x="1164.92" y="1011.30" font-size="42.70">-</text>
<text transform="translate(1179.14,1010.60) scale(1,1.040)" font-size="42.70">2</text>
<text transform="translate(1305.83,1010.60) scale(1,1.040)" font-size="42.70">0</text>
<text transform="translate(266.89,1057.60) scale(1,1.040)" font-size="42.50" font-style="italic">E</text>
<rect x="296.40" y="1045.6" width="11.6" height="3.2" fill="#000"/>
<text transform="translate(309.59,1057.60) scale(1,1.040)" font-size="42.50" font-style="italic">E</text>
<text transform="translate(337.01,1072.00) scale(1,1.040)" font-size="25.60" font-style="italic">F</text>
<text x="363.23" y="1057.60" font-size="43.11">(</text>
<text transform="translate(377.58,1057.60) scale(1,0.985)" font-size="43.11">e</text>
<text transform="translate(401.56,1057.60) scale(1,1.040)" font-size="43.11">V</text>
<text x="430.32" y="1057.60" font-size="43.11">)</text>
<text transform="translate(990.89,1057.60) scale(1,1.040)" font-size="42.50" font-style="italic">E</text>
<rect x="1020.40" y="1045.6" width="11.6" height="3.2" fill="#000"/>
<text transform="translate(1033.59,1057.60) scale(1,1.040)" font-size="42.50" font-style="italic">E</text>
<text transform="translate(1061.01,1072.00) scale(1,1.040)" font-size="25.60" font-style="italic">F</text>
<text x="1087.23" y="1057.60" font-size="43.11">(</text>
<text transform="translate(1101.58,1057.60) scale(1,0.985)" font-size="43.11">e</text>
<text transform="translate(1125.56,1057.60) scale(1,1.040)" font-size="43.11">V</text>
<text x="1154.32" y="1057.60" font-size="43.11">)</text>
<text transform="translate(513.00,431.50) scale(1,1.040)" font-size="42.60">H</text>
<text transform="translate(543.76,431.50) scale(1,1.040)" font-size="42.60">O</text>
<text transform="translate(576.90,431.50) scale(1,1.040)" font-size="42.60">M</text>
<text transform="translate(612.39,431.50) scale(1,1.040)" font-size="42.60">O</text>
<text transform="translate(1181.80,418.50) scale(1,1.040)" font-size="42.60">H</text>
<text transform="translate(1212.56,418.50) scale(1,1.040)" font-size="42.60">O</text>
<text transform="translate(1245.70,418.50) scale(1,1.040)" font-size="42.60">M</text>
<text transform="translate(1281.19,418.50) scale(1,1.040)" font-size="42.60">O</text>
<path d="M461.8,345.1 L476.9,360.2 M476.9,345.1 L461.8,360.2" stroke="#000" stroke-width="3" fill="none"/>
<path d="M497.51,367.70L493.76,367.70L493.76,343.79Q492.40,345.08 490.19,346.37Q487.98,347.66 486.23,348.31L486.23,344.68Q489.38,343.20 491.73,341.10Q494.09,338.99 495.07,337.01L497.51,337.01Z" fill="#000"/>
<text transform="translate(505.35,367.70) scale(1,1.040)" font-size="42.70">0</text>
<text transform="translate(335.22,916.50) scale(1,0.985)" font-size="42.36">d</text>
<text x="358.78" y="917.19" font-size="42.36">-</text>
<text transform="translate(372.89,916.50) scale(1,0.985)" font-size="42.36">b</text>
<text transform="translate(396.45,916.50) scale(1,0.985)" font-size="42.36">a</text>
<text transform="translate(420.01,916.50) scale(1,0.985)" font-size="42.36">n</text>
<text transform="translate(443.57,916.50) scale(1,0.985)" font-size="42.36">d</text>
<text transform="translate(968.51,917.00) scale(1,0.985)" font-size="42.56">d</text>
<text x="992.18" y="917.70" font-size="42.56">-</text>
<text transform="translate(1006.36,917.00) scale(1,0.985)" font-size="42.56">b</text>
<text transform="translate(1030.03,917.00) scale(1,0.985)" font-size="42.56">a</text>
<text transform="translate(1053.70,917.00) scale(1,0.985)" font-size="42.56">n</text>
<text transform="translate(1077.37,917.00) scale(1,0.985)" font-size="42.56">d</text>
<text transform="translate(1270.39,891.60) scale(1,1.040)" font-size="42.09">S</text>
<text transform="translate(1298.46,891.60) scale(1,1.040)" font-size="42.09">S</text>
<line x1="360.9" y1="934.5" x2="340" y2="934.5" stroke="#000" stroke-width="5.2"/>
<path d="M325.8,934.5 Q337.5,929.2 347.0,919.3 Q344.5,927.7 343.0,931.9 L343.0,937.1 Q344.5,941.3 347.0,949.7 Q337.5,939.8 325.8,934.5 Z" fill="#000"/>
<line x1="441.5" y1="934.5" x2="462" y2="934.5" stroke="#000" stroke-width="5.2"/>
<path d="M475.8,934.5 Q464.1,929.2 454.6,919.3 Q457.1,927.7 458.6,931.9 L458.6,937.1 Q457.1,941.3 454.6,949.7 Q464.1,939.8 475.8,934.5 Z" fill="#000"/>
<line x1="968.6" y1="934.2" x2="913" y2="934.2" stroke="#000" stroke-width="5.2"/>
<path d="M899.4,934.2 Q911.1,928.9 920.6,919.0 Q918.1,927.4 916.6,931.6 L916.6,936.8 Q918.1,941.0 920.6,949.4 Q911.1,939.5 899.4,934.2 Z" fill="#000"/>
<line x1="1103.7" y1="934.2" x2="1159" y2="934.2" stroke="#000" stroke-width="5.2"/>
<path d="M1172.8,934.2 Q1161.1,928.9 1151.6,919.0 Q1154.1,927.4 1155.6,931.6 L1155.6,936.8 Q1154.1,941.0 1151.6,949.4 Q1161.1,939.5 1172.8,934.2 Z" fill="#000"/>
<line x1="439" y1="434.8" x2="439" y2="402" stroke="#000" stroke-width="5.3"/>
<path d="M439.0,397.4 Q434.0,403.9 424.8,409.2 Q432.6,408.2 436.4,406.7 L441.6,406.7 Q445.4,408.2 453.2,409.2 Q444.0,403.9 439.0,397.4 Z" fill="#000"/>
</svg></body></html>
